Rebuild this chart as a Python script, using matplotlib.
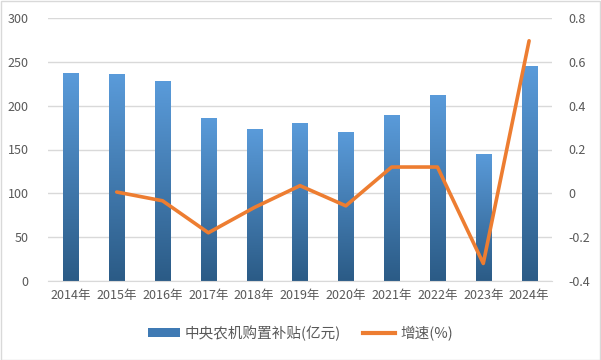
import matplotlib
matplotlib.use("Agg")
import matplotlib.pyplot as plt
import numpy as np
from matplotlib.colors import LinearSegmentedColormap
from matplotlib.patches import Rectangle
from matplotlib.lines import Line2D

plt.rcParams['font.family'] = ['Noto Sans CJK SC', 'DejaVu Sans']

years = ['2014年', '2015年', '2016年', '2017年', '2018年', '2019年',
         '2020年', '2021年', '2022年', '2023年', '2024年']
subsidy = [237, 236, 228, 186, 173, 180, 170, 189, 212, 145, 245]
growth = [None, 0.006, -0.034, -0.18, -0.065, 0.035, -0.057, 0.12, 0.12, -0.32, 0.696]
left_ticks = [0, 50, 100, 150, 200, 250, 300]
right_ticks = [-0.4, -0.2, 0, 0.2, 0.4, 0.6, 0.8]
right_labels = ['-0.4', '-0.2', '0', '0.2', '0.4', '0.6', '0.8']

W, H = 601, 360
fig = plt.figure(figsize=(W/100, H/100), dpi=100)
ax = fig.add_axes([48/W, (H-281)/H, 504/W, 263/H])
ax2 = ax.twinx()

x = np.arange(len(years))
bw = 0.33
cmap = LinearSegmentedColormap.from_list('g', ['#2B5B86', '#5A9BDA'])
grad = np.linspace(0, 1, 256).reshape(-1, 1)
bars = ax.bar(x, subsidy, width=bw, color='none', edgecolor='none', zorder=2)
for b in bars:
    x0, w, h = b.get_x(), b.get_width(), b.get_height()
    im = ax.imshow(grad, extent=[x0, x0 + w, 0, h], origin='lower', cmap=cmap,
                   aspect='auto', zorder=2)
    im.set_clip_path(b)

ax.set_xlim(-0.5, len(years) - 0.5)
ax.set_ylim(0, 300)
ax.set_yticks(left_ticks)
ax.set_xticks(x)
ax.set_xticklabels(years)
ax.yaxis.grid(True, color='#D9D9D9', linewidth=1)
ax.set_axisbelow(True)
for s in ['top', 'left', 'right']:
    ax.spines[s].set_visible(False)
ax.spines['bottom'].set_color('#D9D9D9')
ax.tick_params(axis='both', length=0, labelsize=9, labelcolor='#595959')
ax.tick_params(axis='y', pad=14)
ax.tick_params(axis='x', pad=6)

xs = [xi for xi, g in zip(x, growth) if g is not None]
gs = [g for g in growth if g is not None]
ax2.plot(xs, gs, color='#ED7D31', linewidth=2.6, solid_capstyle='round', zorder=3)
ax2.set_ylim(-0.4, 0.8)
ax2.set_yticks(right_ticks)
ax2.set_yticklabels(right_labels)
for s in ax2.spines.values():
    s.set_visible(False)
ax2.tick_params(axis='y', length=0, labelsize=9, labelcolor='#595959', pad=12)

h1 = Rectangle((0, 0), 1, 1, facecolor='#3F7AB4')
h2 = Line2D([0], [0], color='#ED7D31', linewidth=3)
fig.legend([h1, h2], ['中央农机购置补贴(亿元)', '增速(%)'], loc='center',
           bbox_to_anchor=(0.5, (H-333)/H), ncol=2, frameon=False, fontsize=10.5,
           labelcolor='#595959', handlelength=2.2, handleheight=0.55, columnspacing=1.5,
           handletextpad=0.35)

fig.patches.append(Rectangle((0.5/W, 0.5/H), 1 - 1.5/W, 1 - 1.5/H, transform=fig.transFigure,
                             fill=False, edgecolor='#D9D9D9', linewidth=1))
fig.savefig('out.png', dpi=100)
